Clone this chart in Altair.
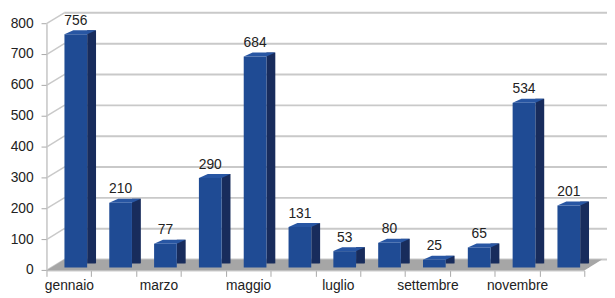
import altair as alt
import pandas as pd

months = ["gennaio", "febbraio", "marzo", "aprile", "maggio", "giugno",
          "luglio", "agosto", "settembre", "ottobre", "novembre", "dicembre"]
values = [756, 210, 77, 290, 684, 131, 53, 80, 25, 65, 534, 201]
y_ticks = [0, 100, 200, 300, 400, 500, 600, 700, 800]
shown_labels = months[::2]

W, H = 545, 250
DX, DY = 18, -11          # depth of the back wall
BW, BDX, BDY = 23, 9, -4  # bar front width and bar depth
BX, BY = 7, -3            # bar front offset from the front axis

FRONT = "#1F4B94"
SIDE = "#182C5C"
TOP = "#2856A3"
FLOOR = "#A6A6A6"
GRID = "#C9C9C9"
FONT = "Liberation Sans"

df = pd.DataFrame({"mese": months, "valore": values})
ticks_df = pd.DataFrame({"valore": y_ticks})
zero_df = pd.DataFrame({"valore": [0]})

xs = alt.Scale(domain=months, paddingInner=0, paddingOuter=0)
ys = alt.Scale(domain=[0, 800], nice=False)

label_expr = "indexof(" + str(shown_labels) + ", datum.value) >= 0 ? datum.value : ''"

y_axis = alt.Axis(values=y_ticks, ticks=False, labels=False,
                  domainColor="#A8A8A8", grid=False)

x_enc = alt.X("mese:N", scale=xs, sort=months, title=None,
              axis=alt.Axis(labelExpr=label_expr, labelAngle=0, tickBand="extent",
                            tickSize=6, tickColor="#A8A8A8", domainColor="#BDBDBD",
                            labelFont=FONT, labelFontSize=14, labelColor="#222222",
                            labelPadding=2, grid=False, labelOverlap=False))
y_enc = alt.Y("valore:Q", scale=ys, title=None, axis=y_axis)

# back wall gridlines
back_grid = alt.Chart(ticks_df).mark_rule(color=GRID, strokeWidth=2, yOffset=DY).encode(
    x=alt.value(DX), x2=alt.value(W + 23), y=y_enc)
# left wall diagonals
left_wall = alt.Chart(ticks_df).mark_rule(color=GRID, strokeWidth=1.5, y2Offset=DY).encode(
    x=alt.value(0), x2=alt.value(DX), y=y_enc, y2=alt.Y2("valore"))
# y tick marks and labels
y_tickmarks = alt.Chart(ticks_df).mark_rule(color="#A8A8A8", strokeWidth=1).encode(
    x=alt.value(-5), x2=alt.value(0), y=y_enc)
y_labels = alt.Chart(ticks_df).mark_text(font=FONT, fontSize=14, color="#222222",
                                         align="right", baseline="middle", dx=-13).encode(
    x=alt.value(0), y=y_enc, text=alt.Text("valore:Q"))

floor_path = f"M0,0 L{W},0 L{W + DX},{DY} L{DX},{DY} Z"
floor = alt.Chart(zero_df).mark_point(shape=floor_path, size=4, filled=True, fill=FLOOR,
                                      strokeWidth=0, opacity=1).encode(
    x=alt.value(0), y=y_enc)

base = alt.Chart(df)

side = base.mark_bar(width=BDX, color=SIDE, xOffset=BX + BW / 2 + BDX / 2,
                     yOffset=BY + BDY, y2Offset=BY).encode(x=x_enc, y=y_enc)

tri_path = f"M{BW / 2},0 L{BW / 2 + BDX},{BDY} L{BW / 2 + BDX},0.6 L{BW / 2},0.6 Z"
bottom_tri = base.mark_point(shape=tri_path, size=4, filled=True, fill=FLOOR, strokeWidth=0,
                             opacity=1, xOffset=BX, yOffset=BY).encode(
    x=x_enc, y=alt.datum(0))

front = base.mark_bar(width=BW, color=FRONT, xOffset=BX, yOffset=BY, y2Offset=BY).encode(
    x=x_enc, y=y_enc)

top_path = f"M{-BW / 2},0 L{BW / 2},0 L{BW / 2 + BDX},{BDY} L{-BW / 2 + BDX},{BDY} Z"
top = base.mark_point(shape=top_path, size=4, filled=True, fill=TOP, strokeWidth=0,
                      opacity=1, xOffset=BX, yOffset=BY).encode(x=x_enc, y=y_enc)

labels = base.mark_text(font=FONT, fontSize=14, color="#222222", baseline="alphabetic",
                        xOffset=BX, yOffset=BY - 9.5).encode(
    x=x_enc, y=y_enc, text=alt.Text("valore:Q"))

chart = alt.layer(back_grid, left_wall, floor, y_tickmarks, y_labels,
                  side, bottom_tri, front, top, labels).properties(
    width=W, height=H,
    autosize=alt.AutoSizeParams(type="none"),
    padding={"left": 39, "top": 14, "right": 23, "bottom": 24},
    background="white",
).configure_view(stroke=None)

chart.save("out.html", embed_options={"renderer": "svg", "actions": False})
